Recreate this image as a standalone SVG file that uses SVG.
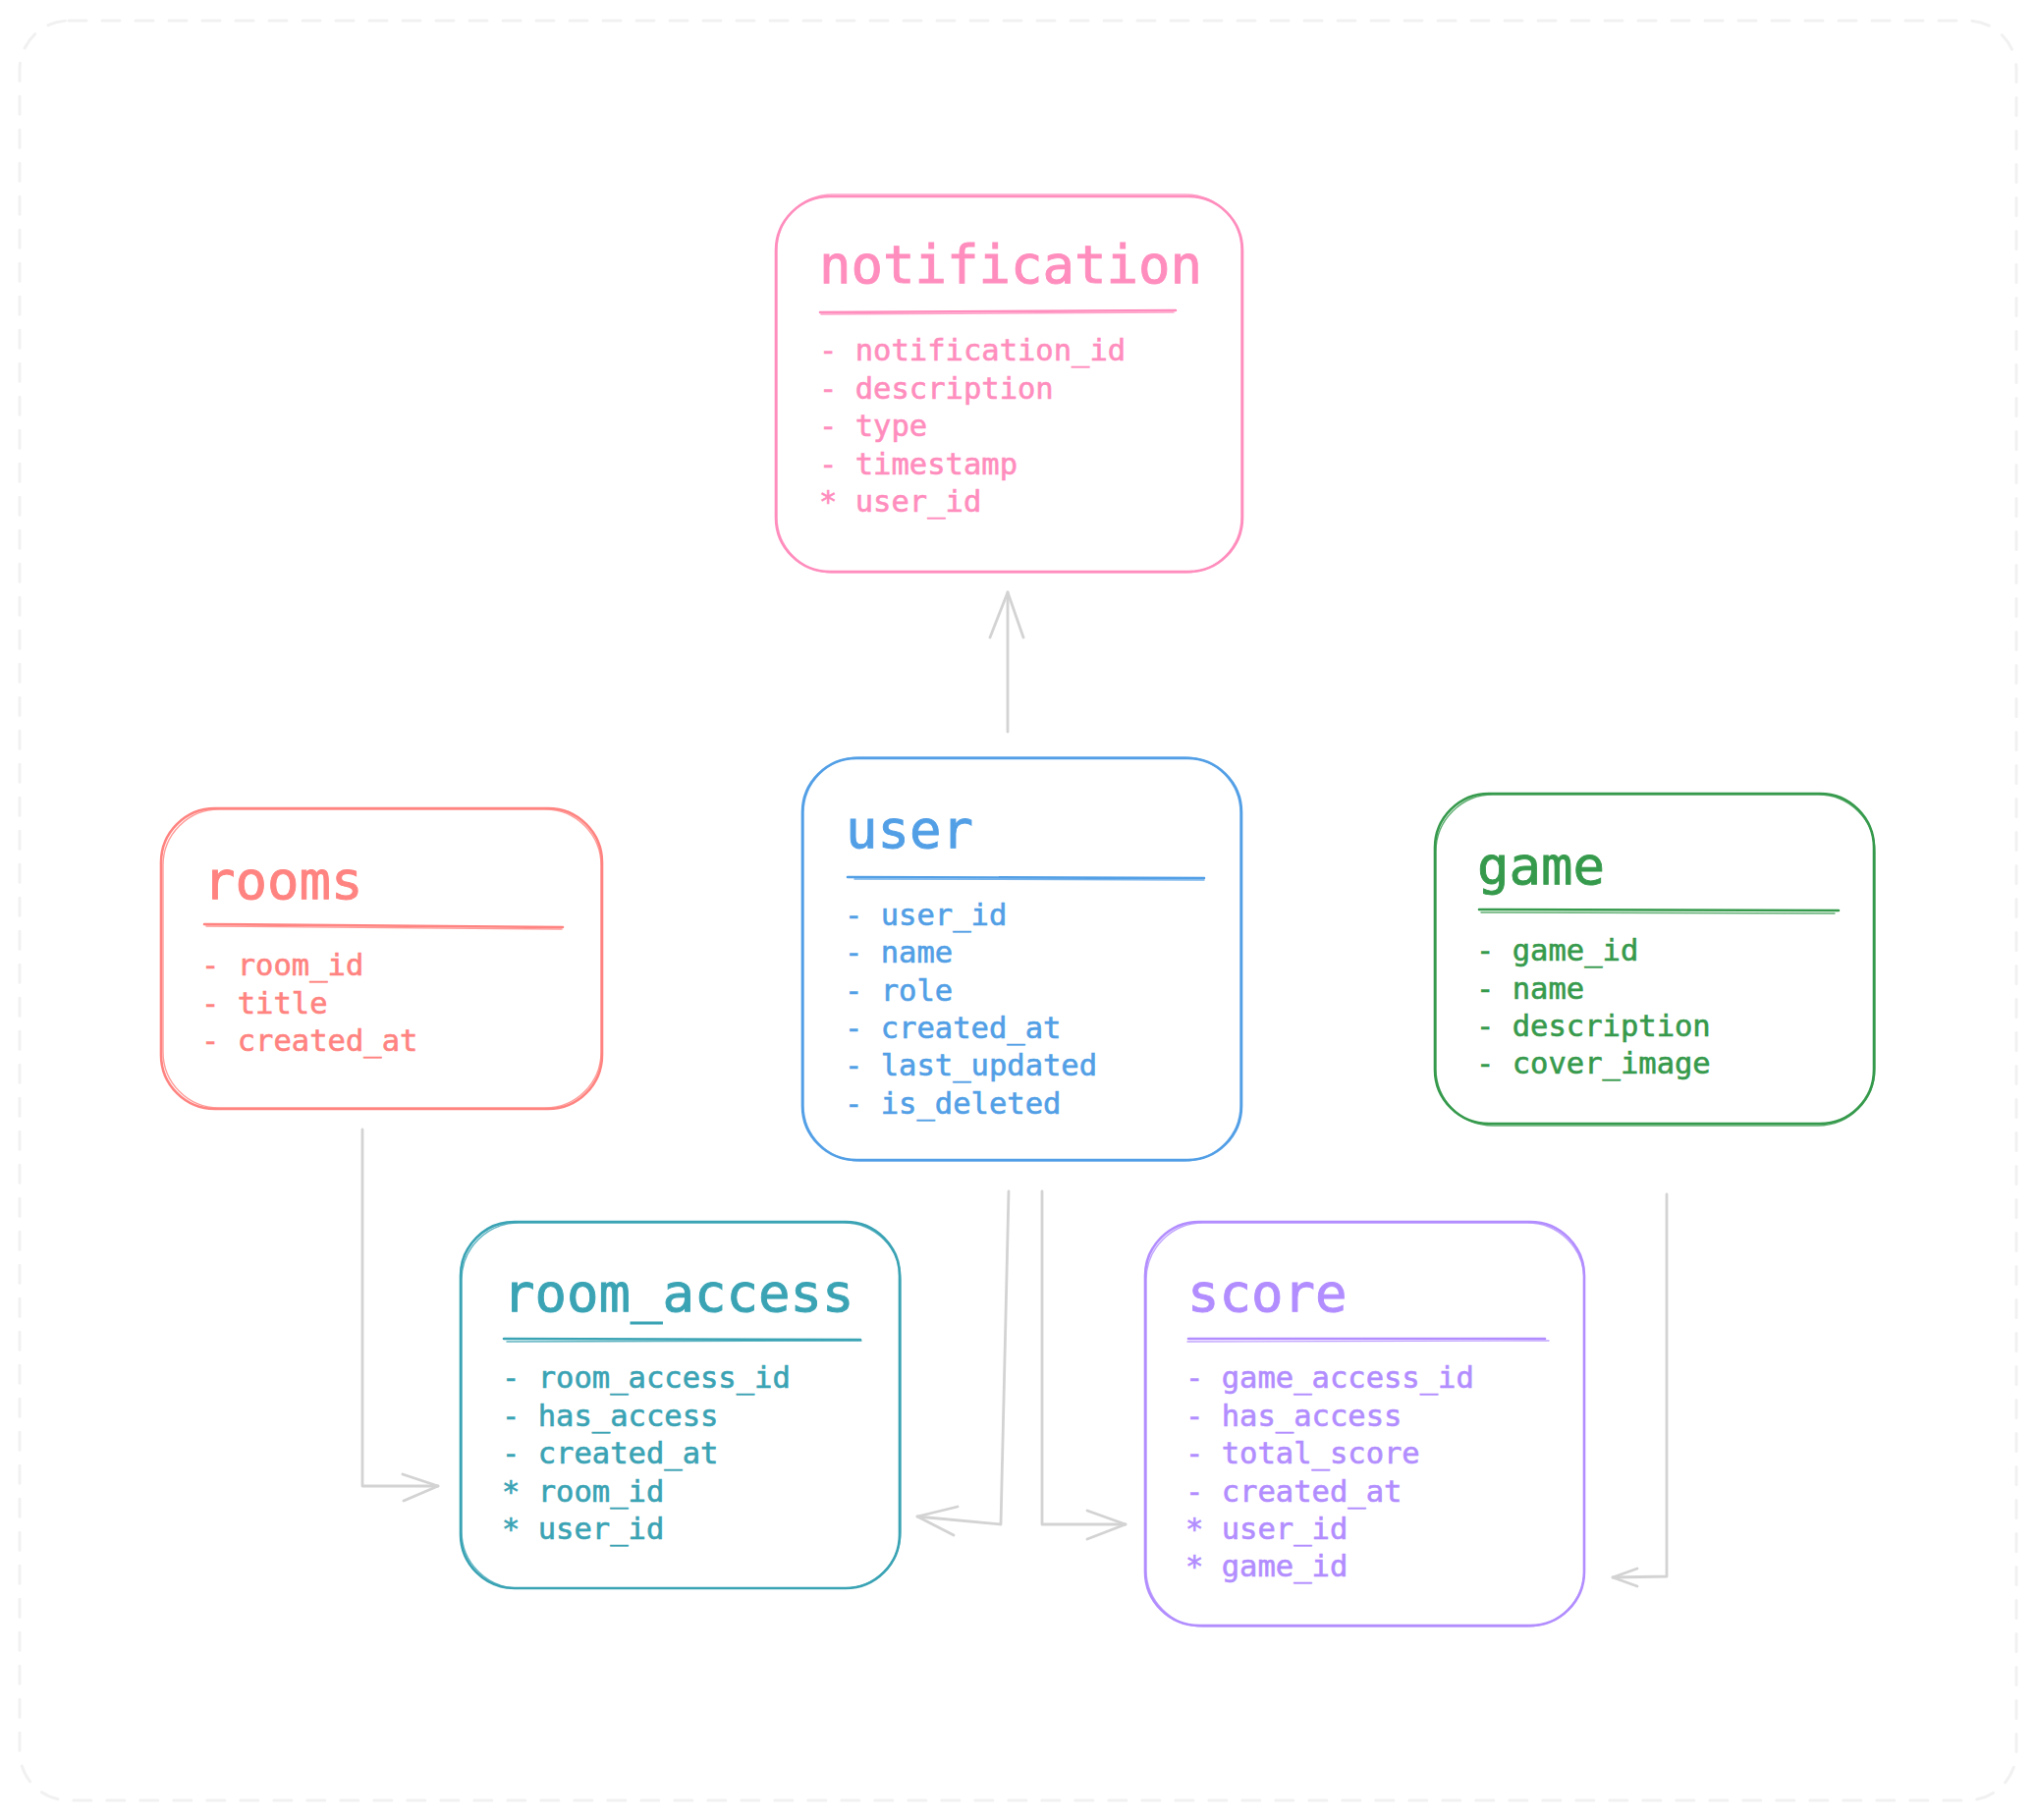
<svg xmlns="http://www.w3.org/2000/svg" width="2073" height="1853" viewBox="0 0 2073 1853">
<defs>
<style>
.frame{fill:none;stroke:#f1f1f1;stroke-width:3;stroke-dasharray:18 16;stroke-linecap:round}
.box{fill:#ffffff;stroke-width:2.6}
.box2{fill:none;stroke-width:1.4;opacity:0.8}
.ul{stroke-width:2.6;fill:none;stroke-linecap:round}
.ul2{stroke-width:1.4;fill:none;opacity:0.8;stroke-linecap:round}
.title{font-family:"DejaVu Sans Mono","Liberation Mono",monospace;font-size:54px;stroke-width:0.9}
.field{font-family:"DejaVu Sans Mono","Liberation Mono",monospace;font-size:30.5px;stroke-width:0.6}
.conn{fill:none;stroke:#d3d3d3;stroke-width:2.8;stroke-linecap:round;stroke-linejoin:round}
.pink{stroke:#ff8dbd;fill:#ff8dbd}
.salmon{stroke:#ff8380;fill:#ff8380}
.blue{stroke:#529fe6;fill:#529fe6}
.green{stroke:#369a4c;fill:#369a4c}
.teal{stroke:#3aa3b4;fill:#3aa3b4}
.purple{stroke:#b28dff;fill:#b28dff}
</style>
</defs>
<rect width="2073" height="1853" fill="#ffffff"/>
<rect class="frame" x="20" y="21" width="2033" height="1812" rx="50"/>

<g id="connectors">
<path class="conn" d="M1026 745 L1026 603"/>
<path class="conn" d="M1008 649 L1026 603 L1042 649"/>
<path class="conn" d="M369 1150 L369 1513 L446 1513"/>
<path class="conn" d="M410 1501 L446 1513 L411 1528"/>
<path class="conn" d="M1027 1213 L1019 1552 L934 1544"/>
<path class="conn" d="M975 1534 L934 1544 L971 1563"/>
<path class="conn" d="M1061 1213 L1061 1552 L1146 1552"/>
<path class="conn" d="M1107 1538 L1146 1552 L1107 1567"/>
<path class="conn" d="M1697 1216 L1697 1605 L1642 1606"/>
<path class="conn" d="M1667 1597 L1642 1606 L1667 1615"/>
</g>

<g id="notification">
<rect class="box pink" style="fill:#fff" x="790" y="200" width="475" height="382" rx="55"/>
<rect class="box2 pink" style="fill:none" x="791" y="198" width="473" height="385" rx="57"/>
<text class="title pink" x="834" y="288">notification</text>
<path class="ul pink" style="fill:none" d="M835 318 L1197 316"/>
<path class="ul2 pink" style="fill:none" d="M836 320 L1195 318"/>
<g class="field pink">
<text x="834" y="367">- notification_id</text>
<text x="834" y="405.5">- description</text>
<text x="834" y="444">- type</text>
<text x="834" y="482.5">- timestamp</text>
<text x="834" y="521">* user_id</text>
</g>
</g>

<g id="user">
<rect class="box blue" style="fill:#fff" x="817" y="772" width="447" height="409" rx="55"/>
<rect class="box2 blue" style="fill:none" x="818" y="771" width="445" height="411" rx="57"/>
<text class="title blue" x="861" y="863">user</text>
<path class="ul blue" style="fill:none" d="M863 893 L1226 894"/>
<path class="ul2 blue" style="fill:none" d="M870 895 L1226 896"/>
<g class="field blue">
<text x="860" y="942">- user_id</text>
<text x="860" y="980">- name</text>
<text x="860" y="1018.5">- role</text>
<text x="860" y="1057">- created_at</text>
<text x="860" y="1095">- last_updated</text>
<text x="860" y="1133.5">- is_deleted</text>
</g>
</g>

<g id="rooms">
<rect class="box salmon" style="fill:#fff" x="164" y="823" width="449" height="306" rx="55"/>
<rect class="box2 salmon" style="fill:none" x="166" y="824" width="446" height="304" rx="57"/>
<text class="title salmon" x="207" y="915">rooms</text>
<path class="ul salmon" style="fill:none" d="M208 941 L573 944"/>
<path class="ul2 salmon" style="fill:none" d="M210 943 L572 946"/>
<g class="field salmon">
<text x="205" y="993">- room_id</text>
<text x="205" y="1032">- title</text>
<text x="205" y="1070">- created_at</text>
</g>
</g>

<g id="game">
<rect class="box green" style="fill:#fff" x="1461" y="808" width="447" height="336" rx="55"/>
<rect class="box2 green" style="fill:none" x="1462" y="809" width="447" height="337" rx="58"/>
<text class="title green" x="1504" y="900">game</text>
<path class="ul green" style="fill:none" d="M1506 926 L1872 927"/>
<path class="ul2 green" style="fill:none" d="M1508 929 L1868 930"/>
<g class="field green">
<text x="1503" y="978">- game_id</text>
<text x="1503" y="1017">- name</text>
<text x="1503" y="1055">- description</text>
<text x="1503" y="1093">- cover_image</text>
</g>
</g>

<g id="room_access">
<rect class="box teal" style="fill:#fff" x="469" y="1244" width="447" height="373" rx="55"/>
<rect class="box2 teal" style="fill:none" x="470" y="1245" width="447" height="372" rx="58"/>
<text class="title teal" x="512" y="1335">room_access</text>
<path class="ul teal" style="fill:none" d="M513 1363 L876 1364"/>
<path class="ul2 teal" style="fill:none" d="M516 1366 L877 1365"/>
<g class="field teal">
<text x="511" y="1413">- room_access_id</text>
<text x="511" y="1452">- has_access</text>
<text x="511" y="1490">- created_at</text>
<text x="511" y="1528.5">* room_id</text>
<text x="511" y="1567">* user_id</text>
</g>
</g>

<g id="score">
<rect class="box purple" style="fill:#fff" x="1166" y="1244" width="447" height="411" rx="55"/>
<rect class="box2 purple" style="fill:none" x="1167" y="1245" width="446" height="411" rx="58"/>
<text class="title purple" x="1209" y="1335">score</text>
<path class="ul purple" style="fill:none" d="M1210 1363 L1573 1363"/>
<path class="ul2 purple" style="fill:none" d="M1209 1366 L1577 1365"/>
<g class="field purple">
<text x="1207" y="1413">- game_access_id</text>
<text x="1207" y="1452">- has_access</text>
<text x="1207" y="1490">- total_score</text>
<text x="1207" y="1528.5">- created_at</text>
<text x="1207" y="1567">* user_id</text>
<text x="1207" y="1605">* game_id</text>
</g>
</g>
</svg>
